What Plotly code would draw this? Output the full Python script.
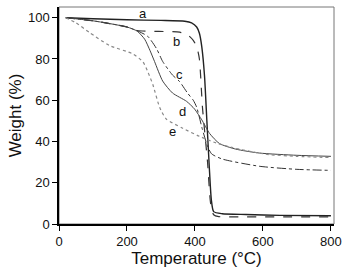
import plotly.graph_objects as go

# Temperature (°C) / Weight (%)
a_T = [20, 100, 200, 300, 370, 390, 405, 413, 420, 428, 435, 442, 448, 455, 480, 550, 650, 800]
a_W = [100, 99.5, 99.0, 98.7, 98.3, 97.5, 95.5, 92.5, 86, 72, 50, 28, 12, 6, 5.0, 4.6, 4.2, 4.0]

b_T = [20, 100, 200, 230, 267, 320, 355, 380, 395, 405, 413, 422, 437, 446, 455, 470, 550, 800]
b_W = [100, 98.5, 95.5, 93.8, 93.4, 93.3, 93.0, 91.5, 89.0, 86.0, 80, 56.6, 30, 10, 4.5, 3.6, 3.5, 3.5]

c_T = [20, 100, 200, 235, 261, 287, 305, 334, 355, 378, 395, 405, 422, 437, 449, 480, 589, 700, 800]
c_W = [100, 98.5, 95.5, 93.3, 91, 85, 78.8, 72.2, 69.0, 63.5, 60, 56.6, 45.8, 37.7, 34.0, 31.5, 28.0, 26.5, 26.0]

d_T = [20, 100, 200, 230, 252, 268, 281, 305, 334, 375, 399, 420, 443, 472, 520, 589, 700, 800]
d_W = [100, 98.5, 95.5, 93.5, 89.6, 84, 78.8, 69.3, 63.5, 59.5, 55.7, 50.5, 43.9, 39.0, 36.3, 34.4, 33.3, 32.8]

e_T = [20, 50, 90, 149, 217, 247, 262, 276, 296, 315, 364, 413, 462, 511, 609, 700, 800]
e_W = [100, 97.5, 92.8, 86.5, 82.5, 78.6, 73.5, 67.6, 56.6, 51.0, 46.4, 42.5, 39.3, 37.0, 33.8, 32.8, 32.2]

labels = ["a", "b", "c", "d", "e"]
label_T = [247, 345, 355, 364, 333]
label_W = [102.2, 88.4, 72.6, 54.7, 44.8]

fig = go.Figure()
styles = [
    (a_T, a_W, dict(color="#222222", width=1.4, dash="solid")),
    (b_T, b_W, dict(color="#333333", width=1.2, dash="dash")),
    (c_T, c_W, dict(color="#333333", width=1.0, dash="dashdot")),
    (d_T, d_W, dict(color="#444444", width=1.0, dash="solid")),
    (e_T, e_W, dict(color="#888888", width=1.2, dash="dot")),
]
for (T, W, ln), name in zip(styles, labels):
    ln = dict(ln)
    ln["shape"] = "spline"
    ln["smoothing"] = 0.6
    fig.add_trace(go.Scatter(x=T, y=W, mode="lines", line=ln, name=name, showlegend=False))

for lab, t, w in zip(labels, label_T, label_W):
    fig.add_annotation(x=t, y=w, text=lab, showarrow=False,
                       font=dict(family="Liberation Sans, Arial", size=13, color="#111111"))

fig.add_shape(type="rect", xref="paper", yref="paper", x0=0, y0=0, x1=1, y1=1,
              line=dict(color="#777777", width=1), layer="below")

axis_font = dict(family="Liberation Sans, Arial", size=13, color="#111111")
fig.update_layout(
    width=349, height=272,
    margin=dict(l=59, r=14, t=7, b=42),
    paper_bgcolor="white", plot_bgcolor="white",
    xaxis=dict(range=[0, 809], tickvals=[0, 200, 400, 600, 800], ticks="outside", ticklen=5,
               tickcolor="black", showline=True, linecolor="black", linewidth=1.5,
               showgrid=False, zeroline=False, tickfont=axis_font,
               title=dict(text="Temperature (°C)", standoff=4,
                          font=dict(family="Liberation Sans, Arial", size=17, color="#111111"))),
    yaxis=dict(range=[0, 105.2], tickvals=[0, 20, 40, 60, 80, 100], ticks="outside", ticklen=5,
               tickcolor="black", showline=True, linecolor="black", linewidth=1.5,
               showgrid=False, zeroline=False, tickfont=axis_font,
               title=dict(text="Weight (%)", standoff=2,
                          font=dict(family="Liberation Sans, Arial", size=17, color="#111111"))),
)

fig.write_html("out.html", config={"displayModeBar": False},
               post_script="document.body.style.margin='0';document.body.style.overflow='hidden';")
